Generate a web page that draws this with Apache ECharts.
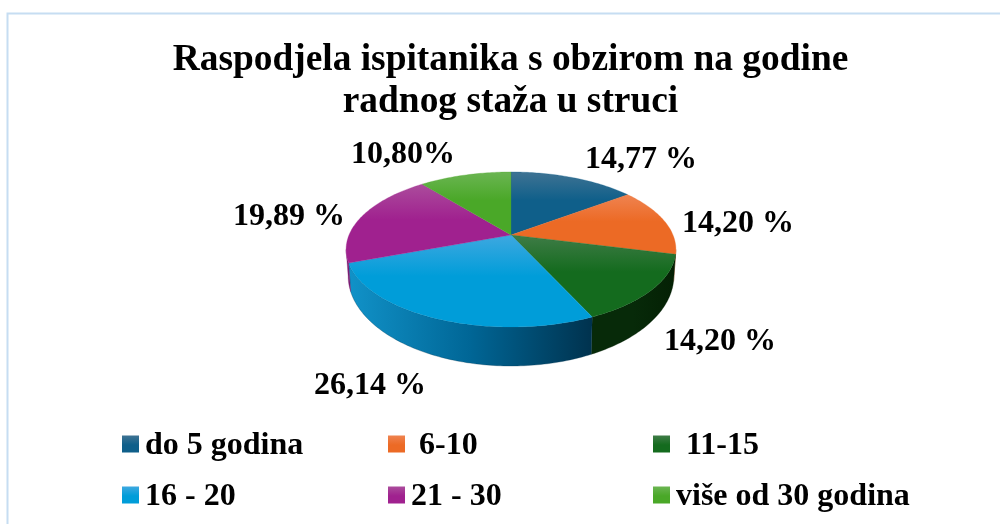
<!DOCTYPE html>
<html><head><meta charset="utf-8">
<style>html,body{margin:0;padding:0;background:#fff}#c{width:1000px;height:524px}</style>
<script src="https://cdn.jsdelivr.net/npm/echarts@6/dist/echarts.min.js"></script>
</head><body><div id="c"></div>
<script>
const categories = ['do 5 godina', ' 6-10', ' 11-15', '16 - 20', '21 - 30', 'više od 30 godina'];
const shares = [14.77, 14.20, 14.20, 26.14, 19.89, 10.80];
const shareLabels = ['14,77 %', '14,20 %', '14,20 %', '26,14 %', '19,89 %', '10,80%'];
const titleText = 'Raspodjela ispitanika s obzirom na godine\nradnog staža u struci';

const FONT = '"Liberation Serif","Times New Roman",serif';
const topPalette = [['#3f7393','#0f5f8a'],['#ef8350','#ec6a25'],['#3f7c47','#146b1e'],['#3ea8e0','#009dd9'],['#ab4c9c','#a0218f'],['#6bb552','#4aa828']];
const wallPalette = [['#0f5f8a','#0f5f8a'],['#b04f1b','#b04f1b'],['#072a09','#042004'],['#1192c8','#00324e'],['#7b1c72','#7b1c72'],['#4aa828','#4aa828']];
const labelAnchors = [[641,160],[738,224],[720,342],[370,386],[289,217],[403,155]];
const legendSlots = [[122,430],[388,430],[653,430],[122,481],[388,481],[653,481]];

const cx = 511, topY = 235, botY = 259, kP = 0.187;
const rimTop = {X:162, Y:74.8}, rimBot = {X:160, Y:87};
const total = shares.reduce((a,b)=>a+b,0);
const grad = (c)=>({type:'linear',x:0,y:0,x2:0,y2:1,colorStops:[{offset:0,color:c[0]},{offset:0.45,color:c[1]},{offset:1,color:c[1]}]});

function proj(deg, rim, y0, r){
  const t = deg*Math.PI/180, u = r*Math.sin(t), v = -r*Math.cos(t), w = 1 - kP*v;
  return [cx + rim.X*u/w, y0 + rim.Y*v/w];
}
function arcPts(a0,a1,rim,y0){
  const n = Math.max(2,Math.ceil(a1-a0)), p=[];
  for(let i=0;i<=n;i++) p.push(proj(a0+(a1-a0)*i/n,rim,y0,1));
  return p;
}
const VIS0 = 100.8, VIS1 = 259.2;
function makeRender(i){
  return function(){
    let s=0; for(let j=0;j<i;j++) s+=shares[j];
    const a0 = s/total*360, a1 = (s+shares[i])/total*360;
    const kids = [];
    const w0 = Math.max(a0,VIS0), w1 = Math.min(a1,VIS1);
    if(w1>w0){
      const up = arcPts(w0,w1,rimTop,topY), lo = arcPts(w0,w1,rimBot,botY).reverse();
      const xs = up.concat(lo).map(p=>p[0]);
      const right = Math.max(...xs), left = Math.min(...xs);
      const c = wallPalette[i];
      const mid = i===3 ? '#006696' : c[0];
      const fill = {type:'linear',x:left,y:0,x2:right,y2:0,global:true,colorStops:[{offset:0,color:c[0]},{offset:0.5,color:mid},{offset:1,color:c[1]}]};
      kids.push({type:'polygon',shape:{points:up.concat(lo)},style:{fill,stroke:c[1],lineWidth:0.3}});
    }
    const pts = [proj(0,rimTop,topY,0)].concat(arcPts(a0,a1,rimTop,topY));
    const f = grad(topPalette[i]);
    kids.push({type:'polygon',shape:{points:pts},style:{fill:f,stroke:topPalette[i][1],lineWidth:0.3}});
    kids.push({type:'text',x:labelAnchors[i][0],y:labelAnchors[i][1],z2:10,style:{text:shareLabels[i],font:'bold 32px '+FONT,fill:'#000',align:'center',verticalAlign:'middle'}});
    return {type:'group',children:kids};
  };
}
const series = categories.map((name,i)=>({
  name, type:'custom', coordinateSystem:'none', data:[shares[i]], renderItem:makeRender(i), silent:true, clip:false
}));
const swatchIcon = 'path://M0 0L17 0L17 17L0 17Z M0 21L0 21Z';
const legend = categories.map((name,i)=>({
  show:true, left:legendSlots[i][0], top:legendSlots[i][1], itemWidth:17, itemHeight:21, itemGap:0, padding:0, selectedMode:false,
  data:[{name, icon:swatchIcon, itemStyle:{color:grad(topPalette[i])}}],
  textStyle:{fontFamily:FONT,fontWeight:'bold',fontSize:32,color:'#000',padding:[0,0,0,i===2?3:1]}
}));
const chart = echarts.init(document.getElementById('c'),null,{renderer:'canvas'});
chart.setOption({
  animation:false, backgroundColor:'#fff',
  title:{text:titleText,left:510.5,top:39,padding:0,textAlign:'center',textStyle:{fontFamily:FONT,fontWeight:'bold',fontSize:37.4,lineHeight:42,color:'#000'}},
  legend, series,
  graphic:[
    {type:'polyline',shape:{points:[[7.5,524],[7.5,13.5],[1000,13.5]]},style:{stroke:'#c6ddf2',lineWidth:2,fill:null},silent:true}
  ]
});
</script></body></html>
